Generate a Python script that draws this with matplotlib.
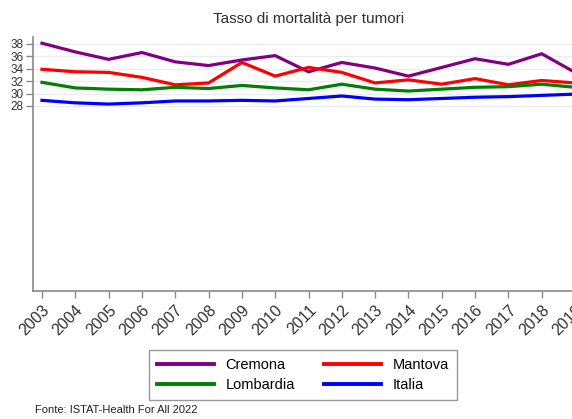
import matplotlib
matplotlib.use("Agg")
import matplotlib.pyplot as plt

years = list(range(2003, 2020))
cremona = [38.1, 36.7, 35.5, 36.6, 35.1, 34.5, 35.4, 36.1, 33.5, 35.0, 34.1, 32.8, 34.2, 35.6, 34.7, 36.4, 33.4]
mantova = [33.9, 33.5, 33.4, 32.6, 31.4, 31.7, 35.0, 32.8, 34.2, 33.4, 31.7, 32.2, 31.5, 32.4, 31.4, 32.1, 31.7]
lombardia = [31.8, 30.9, 30.7, 30.6, 31.0, 30.8, 31.3, 30.9, 30.6, 31.5, 30.7, 30.4, 30.7, 31.0, 31.1, 31.5, 31.0]
italia = [28.9, 28.5, 28.3, 28.5, 28.8, 28.8, 28.9, 28.8, 29.2, 29.6, 29.1, 29.0, 29.2, 29.4, 29.5, 29.7, 29.9]
yticks = [28, 30, 32, 34, 36, 38]

W, H = 572, 419
fig = plt.figure(figsize=(W / 100, H / 100), dpi=100)
fig.patch.set_facecolor("white")
ax = fig.add_axes([33 / W, 1 - 291 / H, 551 / W, 254 / H])

series = [("Cremona", cremona, "#800080"), ("Mantova", mantova, "#ff0000"),
          ("Lombardia", lombardia, "#008000"), ("Italia", italia, "#0000ff")]
handles = {}
for name, vals, col in series:
    ln, = ax.plot(years, vals, color=col, lw=2.3, solid_joinstyle="miter", clip_on=False)
    handles[name] = ln

ax.set_xlim(2003 - 0.27, 2019 + 0.27)
ax.set_ylim(-1.8, 39.1)
ax.set_yticks(yticks)
ax.set_xticks(years)
ax.set_xticklabels([str(y) for y in years], rotation=45, ha="right", va="top",
                   rotation_mode="anchor", fontsize=11.5, fontfamily="Liberation Sans")
for t in ax.get_yticklabels():
    t.set_fontsize(8.5)
    t.set_fontfamily("Liberation Sans")
ax.grid(axis="y", color="#eaeef2", lw=1)
ax.set_axisbelow(True)
for s in ["top", "right"]:
    ax.spines[s].set_visible(False)
for s in ["left", "bottom"]:
    ax.spines[s].set_color("#8a8a8a")
    ax.spines[s].set_linewidth(1.2)
ax.tick_params(axis="both", colors="#333333", length=5, width=1, color="#8a8a8a")
ax.tick_params(axis="x", pad=3)
ax.tick_params(axis="y", pad=2)

ax.set_title("Tasso di mortalità per tumori", fontsize=11, color="#2b2f3a",
             fontfamily="Liberation Sans", pad=10)

order = ["Cremona", "Lombardia", "Mantova", "Italia"]
leg = fig.legend([handles[n] for n in order], order, ncol=2,
                 loc="center", bbox_to_anchor=(303 / W, 1 - 375 / H),
                 frameon=True, fancybox=False, edgecolor="#7f7f7f",
                 prop={"family": "Liberation Sans", "size": 10.5},
                 handlelength=3.9, handletextpad=0.8, columnspacing=2.0,
                 borderpad=0.55, labelspacing=0.4)
for l in leg.get_lines():
    l.set_linewidth(2.8)
leg.get_frame().set_linewidth(1.0)

fig.text(35 / W, 1 - 410 / H, "Fonte: ISTAT-Health For All 2022", fontsize=8,
         fontfamily="Liberation Sans", ha="left", va="center", color="#222222")

fig.savefig("out.png", dpi=100)
